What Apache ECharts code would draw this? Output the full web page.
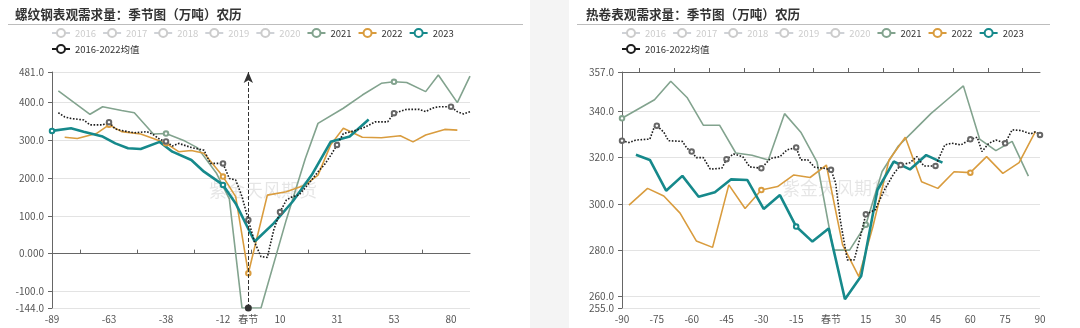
<!DOCTYPE html>
<html><head><meta charset="utf-8">
<script src="https://cdn.jsdelivr.net/npm/echarts@6/dist/echarts.min.js"></script>
<style>html,body{margin:0;padding:0;background:#fff}#c{width:1080px;height:328px}</style>
</head><body><div id="c"></div>
<script>
// ---------- data ----------
const LEGEND_NAMES = ['2016','2017','2018','2019','2020','2021','2022','2023','2016-2022均值'];
const HIDDEN_YEARS = ['2016','2017','2018','2019','2020'];
const TITLE_LEFT = '螺纹钢表观需求量：季节图（万吨）农历';
const TITLE_RIGHT = '热卷表观需求量：季节图（万吨）农历';
const WATERMARK = '紫金天风期货';
const SPRING = '春节';

// lunar day offsets (0 = 春节)
const LEFT_DAYS = [-89,-86,-83,-80,-77,-74,-71,-69,-66,-63,
  -60,-57,-55,-52,-49,-46,-44,-41,-38,
  -35,-32,-29,-26,-23,-20,-17,-15,-12,
  -9,-6,-3,0,2,4,6,8,10,
  12,15,17,19,22,24,26,29,31,
  33,36,38,41,43,45,48,50,53,
  56,59,62,65,68,71,74,77,80,
  83,86,89];
const RIGHT_DAY_MIN = -90, RIGHT_DAY_MAX = 90;
const LEFT_LABEL_EVERY = 9, RIGHT_LABEL_EVERY = 15;
const LEFT_Y_TICKS = [-144,-100,0,100,200,300,400,481];
const RIGHT_Y_TICKS = [255,260,280,300,320,340,357];

// 螺纹钢 [day, value]
const REBAR_2021 = [[-86,431],[-71,369],[-66,389],[-57,379],[-52,373],[-44,317],[-38,318],[-29,298],[-23,280],[-15,212],[-9,145],[-3,-144],[4,-144],[12,90],[19,252],[24,345],[33,385],[41,420],[48,451],[53,455],[59,453],[68,429],[74,473],[83,400],[89,470]];
const REBAR_2022 = [[-83,308],[-77,305],[-69,318],[-63,341],[-57,323],[-49,317],[-44,305],[-38,292],[-32,270],[-26,273],[-20,266],[-12,204],[-6,151],[0,-52],[6,155],[12,164],[19,182],[24,208],[29,288],[33,332],[41,308],[48,307],[56,312],[62,296],[68,314],[77,329],[83,327]];
const REBAR_2023 = [[-89,325],[-80,332],[-74,323],[-66,310],[-60,292],[-55,279],[-49,277],[-41,296],[-35,270],[-26,248],[-20,217],[-12,182],[-6,133],[2,32],[8,80],[15,138],[22,208],[29,296],[36,310],[43,355]];
const REBAR_AVG = [[-86,373],[-83,362],[-80,358],[-74,354],[-71,341],[-66,341],[-63,348],[-60,330],[-57,326],[-52,320],[-46,323],[-44,315],[-41,303],[-38,297],[-35,285],[-32,292],[-26,281],[-20,274],[-17,239],[-12,239],[-9,199],[-6,195],[-3,151],[0,89],[2,30],[4,-8],[6,-10],[8,62],[10,110],[12,142],[15,151],[17,155],[19,175],[22,195],[24,217],[26,235],[29,260],[31,288],[33,318],[36,322],[38,327],[41,332],[43,340],[45,349],[50,349],[53,372],[59,382],[65,382],[68,376],[71,385],[74,389],[80,389],[83,376],[86,370],[89,376]];

// 热卷 [day, value]
const HRC_2021 = [[-90,337],[-83,341],[-76,345],[-69,353],[-62,346],[-55,334],[-48,334],[-41,322],[-34,321],[-27,319],[-20,339],[-13,331],[-6,318],[1,280],[8,280],[15,291],[22,314],[29,325],[36,332],[43,339],[50,345],[57,351],[64,328],[71,323],[78,327],[85,312]];
const HRC_2022 = [[-87,299.5],[-79,306.7],[-72,303.4],[-65,296],[-58,284],[-51,281.2],[-44,308.2],[-37,298],[-30,306],[-23,307.5],[-16,312.5],[-9,311.4],[-2,316.8],[5,282.3],[12,268.6],[18,290],[25,319],[32,328.8],[39,309.6],[46,306.7],[53,313.9],[60,313.5],[67,320.4],[74,313.2],[81,317.8],[88,331.2]];
const HRC_2023 = [[-84,321.2],[-78,319],[-71,305.7],[-64,312.1],[-57,303.1],[-50,305],[-43,310.6],[-36,310.3],[-29,297.8],[-22,303.8],[-15,290.2],[-8,283.7],[-1,289.4],[6,258.8],[13,268.8],[20,306],[27,318.3],[34,314.9],[41,321.1],[48,317.8]];
const HRC_AVG = [[-90,327.3],[-87,326.5],[-84,327.6],[-78,328],[-76,333.5],[-75,333.8],[-72,331],[-70,327.3],[-64,327],[-62,324],[-60,322.6],[-58,320],[-55,320],[-52,315],[-47,315.4],[-45,319.3],[-42,321.6],[-38,320.4],[-35,316],[-30,315.4],[-26,319.7],[-22,320.4],[-19,323.3],[-15,324.4],[-13,319],[-10,319],[-7,315.8],[-3,315.4],[0,314.7],[2,309],[4,293],[7,275.8],[10,275.8],[13,287.3],[15,295.5],[19,297.4],[23,306],[27,313],[30,316.8],[34,317.8],[37,320.4],[40,316.4],[45,316.4],[49,325.5],[52,326.2],[56,325.5],[60,327.9],[63,328.8],[65,322.6],[68,326.2],[71,327.6],[75,326.2],[78,332],[82,331.7],[86,330.2],[88,331.2],[90,329.8]];

// ---------- build ----------
const COLORS = {'2021':'#82a38e','2022':'#d99c3e','2023':'#16898b','2016-2022均值':'#1e1e1e'};
const AVG = '2016-2022均值';
const FONT = '"Noto Sans CJK SC","Noto Sans",sans-serif';
const toCat = d => d === 0 ? SPRING : String(d);
const LEFT_CATS = LEFT_DAYS.map(toCat);
const RIGHT_CATS = [];
for (let d = RIGHT_DAY_MIN; d <= RIGHT_DAY_MAX; d++) RIGHT_CATS.push(toCat(d));
const LEFT_TICK_SLOTS = Array.from({length: LEFT_CATS.length * 2 - 1}, (_, i) => i);
const RIGHT_TICK_SLOTS = Array.from({length: RIGHT_CATS.length * 2 - 1}, (_, i) => i);
const pairs = arr => arr.map(([d, v]) => [toCat(d), v]);
const selected = {};
HIDDEN_YEARS.forEach(n => selected[n] = false);

const labelStyle = {color:'#555', fontSize:10, fontFamily:FONT};
function mainX(gi, cats, every) {
  return {type:'category', gridIndex:gi, data:cats, boundaryGap:false,
    axisLine:{show:false, onZero:false}, axisTick:{show:false},
    axisLabel:Object.assign({interval:(i, v) => i % every === 0 || v === SPRING, margin:6}, labelStyle),
    splitLine:{show:false}};
}
function tickX(gi, slots, every) {
  return {type:'category', gridIndex:gi, data:slots, boundaryGap:false,
    axisLine:{show:true, onZero:true, lineStyle:{color:'#666', width:1}},
    axisTick:{show:true, interval:(i) => i % (2*every) === every, length:4, lineStyle:{color:'#666'}},
    axisLabel:{show:false}, splitLine:{show:false}};
}
function yAx(gi, ticks) {
  return {type:'value', gridIndex:gi, min:ticks[0], max:ticks[ticks.length-1],
    axisLine:{show:true, lineStyle:{color:'#666'}},
    axisTick:{show:true, length:4, lineStyle:{color:'#666'}, customValues:ticks},
    axisLabel:Object.assign({customValues:ticks, margin:8, formatter:v => Number(v).toPrecision(4)}, labelStyle),
    splitLine:{show:true, lineStyle:{color:'#e3e3e3', width:1}}};
}
function lineSeries(name, data, gi, extra) {
  const isAvg = name === AVG;
  const width = name === '2023' ? 2.6 : 1.6;
  return Object.assign({name, type:'line', xAxisIndex:gi*2, yAxisIndex:gi, data:pairs(data),
    symbol:'emptyCircle', symbolSize:4.5, showSymbol:true,
    lineStyle:{color:COLORS[name], width, type: isAvg ? 'dotted' : 'solid'},
    itemStyle:{color: isAvg ? '#666' : COLORS[name], borderWidth: isAvg ? 0.8 : 1}, emphasis:{disabled:true}, z: isAvg ? 4 : 3}, extra || {});
}
function legend(left) {
  return {left, top:23, width:430, itemWidth:18, itemHeight:10, itemGap:6,
    data:LEGEND_NAMES.map(n => n === AVG ? {name:n, lineStyle:{type:'solid', color:'#1e1e1e'}, itemStyle:{color:'#1e1e1e', borderWidth:1}} : n),
    selected, inactiveColor:'#cccccc', textStyle:{fontSize:9.5, color:'#333', fontFamily:FONT}};
}

const series = [];
HIDDEN_YEARS.forEach(n => series.push({name:n, type:'line', xAxisIndex:0, yAxisIndex:0, data:[]}));
series.push(lineSeries('2021', REBAR_2021, 0));
series.push(lineSeries('2022', REBAR_2022, 0));
series.push(lineSeries('2023', REBAR_2023, 0, {markLine:{silent:true, symbol:['circle','arrow'], symbolSize:[7,11],
  label:{show:false}, lineStyle:{type:'dashed', color:'#333', width:1}, emphasis:{disabled:true},
  data:[{xAxis:SPRING}]}}));
series.push(lineSeries(AVG, REBAR_AVG, 0));
series.push(lineSeries('2021', HRC_2021, 1));
series.push(lineSeries('2022', HRC_2022, 1));
series.push(lineSeries('2023', HRC_2023, 1));
series.push(lineSeries(AVG, HRC_AVG, 1));

const option = {
  animation:false,
  backgroundColor:'#fff',
  textStyle:{fontFamily:FONT},
  title:[
    {text:TITLE_LEFT, left:10, top:3, textStyle:{fontSize:12.6, fontWeight:'bold', color:'#333', fontFamily:FONT}},
    {text:TITLE_RIGHT, left:581, top:3, textStyle:{fontSize:12.6, fontWeight:'bold', color:'#333', fontFamily:FONT}}
  ],
  legend:[legend(46), legend(616)],
  grid:[{left:52, top:72, width:418, height:236}, {left:622, top:72, width:418, height:236}],
  xAxis:[mainX(0, LEFT_CATS, LEFT_LABEL_EVERY), tickX(0, LEFT_TICK_SLOTS, LEFT_LABEL_EVERY),
         mainX(1, RIGHT_CATS, RIGHT_LABEL_EVERY), tickX(1, RIGHT_TICK_SLOTS, RIGHT_LABEL_EVERY)],
  yAxis:[yAx(0, LEFT_Y_TICKS), yAx(1, RIGHT_Y_TICKS)],
  graphic:[
    {type:'rect', shape:{x:530, y:0, width:39, height:328}, style:{fill:'#f4f4f4'}, z:-10, silent:true},
    {type:'line', shape:{x1:8, y1:24.5, x2:523, y2:24.5}, style:{stroke:'#bdbdbd', lineWidth:1}, silent:true},
    {type:'line', shape:{x1:577, y1:24.5, x2:1050, y2:24.5}, style:{stroke:'#bdbdbd', lineWidth:1}, silent:true},
    {type:'text', x:263, y:190, silent:true, z:-5, style:{text:WATERMARK, fill:'rgba(0,0,0,0.10)', font:'18px ' + FONT, textAlign:'center', textVerticalAlign:'middle'}},
    {type:'text', x:836, y:188, silent:true, z:-5, style:{text:WATERMARK, fill:'rgba(0,0,0,0.10)', font:'18px ' + FONT, textAlign:'center', textVerticalAlign:'middle'}}
  ],
  series
};
const chart = echarts.init(document.getElementById('c'), null, {renderer:'canvas'});
chart.setOption(option);
</script></body></html>
